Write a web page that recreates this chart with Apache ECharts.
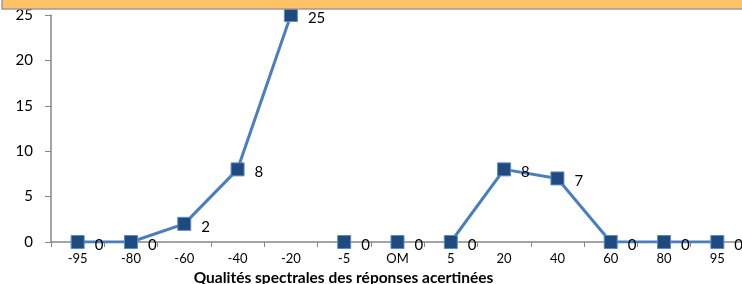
<!DOCTYPE html>
<html>
<head>
<meta charset="utf-8">
<script src="https://cdn.jsdelivr.net/npm/echarts@6/dist/echarts.min.js"></script>
<style>
html, body { margin: 0; padding: 0; background: #fff; }
#chart { width: 742px; height: 284px; }
</style>
</head>
<body>
<div id="chart"></div>
<script>
// categories and values
var categories = ['-95', '-80', '-60', '-40', '-20', '-5', 'OM', '5', '20', '40', '60', '80', '95'];
var values = [0, 0, 2, 8, 25, 0, 0, 0, 8, 7, 0, 0, 0];
// runs of points joined by the line (start index, end index)
var segments = [[0, 4], [5, 5], [6, 6], [7, 12]];
var yTicks = { min: 0, max: 25, interval: 5 };
var xTitle = 'Qualités spectrales des réponses acertinées';

var chart = echarts.init(document.getElementById('chart'));

var series = segments.map(function (seg) {
    var data = values.map(function (v, i) {
        return (i >= seg[0] && i <= seg[1]) ? v : null;
    });
    return {
        type: 'line',
        data: data,
        symbol: 'rect',
        symbolSize: 13,
        showAllSymbol: true,
        connectNulls: false,
        lineStyle: { color: '#4A7EBF', width: 3 },
        itemStyle: { color: '#1F4A80', borderColor: '#5B8BC8', borderWidth: 1 },
        label: {
            show: true,
            position: 'right',
            distance: 10,
            offset: [0, 3],
            color: '#000',
            fontSize: 15,
            fontFamily: 'Lato'
        },
        emphasis: { disabled: true },
        animation: false
    };
});

chart.setOption({
    animation: false,
    grid: { left: 51, right: -2, top: 15, bottom: 42, outerBoundsMode: 'none' },
    graphic: [{
        type: 'rect',
        shape: { x: 2, y: -10, width: 760, height: 19 },
        style: { fill: '#FFC266', stroke: '#9A9A9A', lineWidth: 1.5 },
        z: 100
    }],
    xAxis: {
        type: 'category',
        data: categories,
        boundaryGap: true,
        name: xTitle,
        nameLocation: 'middle',
        nameGap: 28,
        nameTextStyle: {
            color: '#000', fontSize: 15.5, fontWeight: 'bold', fontFamily: 'Lato',
            padding: [0, 108, 0, 0]
        },
        axisLine: { lineStyle: { color: '#868686', width: 1.5 } },
        axisTick: { show: true, length: 5, alignWithLabel: false, lineStyle: { color: '#868686' } },
        axisLabel: { color: '#000', fontSize: 13, margin: 10, fontFamily: 'Lato', interval: 0 },
        splitLine: { show: false }
    },
    yAxis: {
        type: 'value',
        min: yTicks.min,
        max: yTicks.max,
        interval: yTicks.interval,
        axisLine: { show: true, lineStyle: { color: '#868686', width: 1.5 } },
        axisTick: { show: true, length: 6, lineStyle: { color: '#868686' } },
        axisLabel: { color: '#000', fontSize: 15, margin: 18, fontFamily: 'Lato' },
        splitLine: { show: false }
    },
    series: series
});
</script>
</body>
</html>
